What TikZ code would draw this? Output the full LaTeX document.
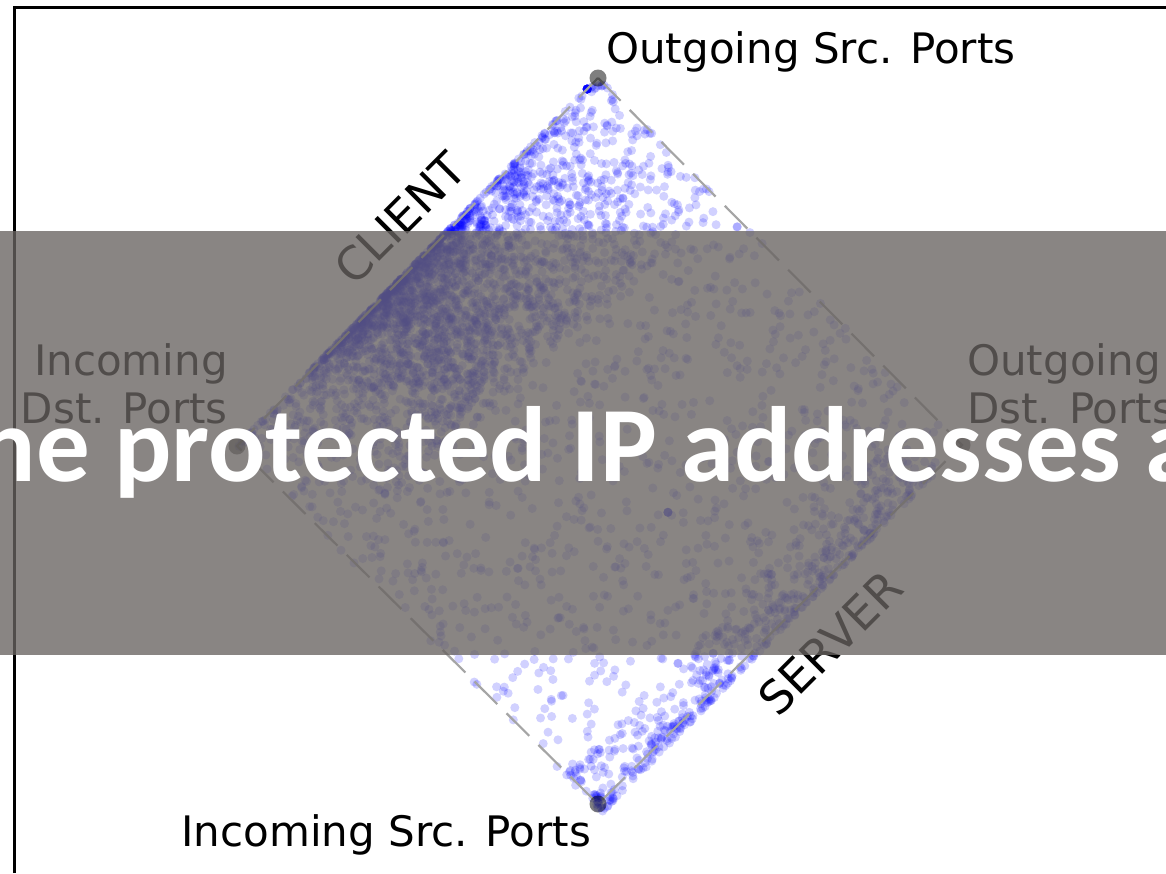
\documentclass[tikz,border=0pt]{standalone}
\usepackage{fontspec}
\setmainfont{DejaVu Sans}
\newfontfamily\capfont{Carlito}

\definecolor{ptblue}{RGB}{0,0,255}
\definecolor{edgegray}{RGB}{165,165,165}
\definecolor{bandgray}{RGB}{104,99,97}

% place one scatter point at diamond coordinates (s along T->L, t along T->R)
\newcommand\ptat[2]{\fill[pt] ({598-361*#1+364*#2},{78+368*#1+367*#2}) circle[radius=4.5pt];}

\begin{document}
\begin{tikzpicture}[x=1pt,y=-1pt,
  pt/.style={fill=ptblue,fill opacity=0.18},
  vdot/.style={circle,fill=black,fill opacity=0.5,inner sep=0pt,minimum size=17pt},
  edgeline/.style={draw=edgegray,line width=2.2pt,dash pattern=on 32pt off 13pt},
  lbl/.style={inner sep=0pt,font=\fontsize{42}{48}\selectfont},
  rlbl/.style={inner sep=0pt,rotate=45,font=\fontsize{46}{52}\selectfont},
  frameline/.style={line width=3.2pt},
]
\useasboundingbox (0,0) rectangle (1166,873);
\clip (0,0) rectangle (1166,873);
\fill[white] (0,0) rectangle (1166,873);

% corners of the port diamond
\coordinate (T) at (598,78);
\coordinate (R) at (962,445);
\coordinate (B) at (598,804);
\coordinate (L) at (237,446);

\pgfmathsetseed{4242}
% band along the client edge
\foreach \i in {1,...,1300}{
  \pgfmathsetmacro\s{0.04+0.96*(rnd+rnd)/2}
  \pgfmathsetmacro\r{rnd}
  \pgfmathsetmacro\t{0.3*\r*\r}
  \ptat{\s}{\t}
}
% dense cloud on the lower half of the client edge
\foreach \i in {1,...,1000}{
  \pgfmathsetmacro\s{0.33+0.5*(rnd+rnd)/2}
  \pgfmathsetmacro\r{rnd}
  \pgfmathsetmacro\t{0.26*\r*\r}
  \ptat{\s}{\t}
}
% spread over the whole diamond, thinning towards the server side
\foreach \i in {1,...,550}{
  \pgfmathsetmacro\s{rnd}
  \pgfmathsetmacro\r{rnd}
  \pgfmathsetmacro\t{\r*\r}
  \ptat{\s}{\t}
}
\foreach \i in {1,...,800}{
  \pgfmathsetmacro\s{rnd}
  \pgfmathsetmacro\t{rnd}
  \ptat{\s}{\t}
}
% band along the server edge
\foreach \i in {1,...,520}{
  \pgfmathsetmacro\s{0.05+0.95*rnd}
  \pgfmathsetmacro\r{rnd}
  \pgfmathsetmacro\t{1-0.1*\r*\r}
  \ptat{\s}{\t}
}
% near the outgoing source corner
\foreach \i in {1,...,220}{
  \pgfmathsetmacro\s{0.38*rnd}
  \pgfmathsetmacro\r{rnd}
  \pgfmathsetmacro\t{0.33*\r}
  \ptat{\s}{\t}
}
% stacked points
\foreach \i in {1,...,18}{ \ptat{0.03}{0.0} }
\foreach \i in {1,...,10}{
  \pgfmathsetmacro\s{0.975+0.015*rnd}
  \pgfmathsetmacro\t{0.965+0.02*rnd}
  \ptat{\s}{\t}
}
\foreach \i in {1,...,5}{ \ptat{0.497}{0.685} }

% dashed diamond
\draw[edgeline] (T) -- (R) -- (B) -- (L) -- cycle;
\node[vdot] (Tdot) at (T) {};
\node[vdot] (Rdot) at (R) {};
\node[vdot] (Bdot) at (B) {};
\node[vdot] (Ldot) at (L) {};

% labels
\node[lbl, anchor=base west] (osrc) at (606,63) {Outgoing Src. Ports};
\node[lbl, anchor=base east] (isrc) at (591,846) {Incoming Src. Ports};
\node[lbl, anchor=base east, align=right] (idst) at (228,423) {Incoming\\Dst. Ports};
\node[lbl, anchor=base west, align=left] (odst) at (967,423) {Outgoing\\Dst. Ports};
\node[rlbl] (client) at (400,218) {CLIENT};
\node[rlbl] (server) at (830,643) {SERVER};

% axes frame
\coordinate (fb) at (14.5,873);
\coordinate (fc) at (14.5,7.5);
\coordinate (fr) at (1166,7.5);
\draw[frameline] (fb) -- (fc) -- (fr);

% caption band
\node[fill=bandgray, fill opacity=0.78, inner sep=0pt, minimum width=1166pt,
      minimum height=424pt, anchor=north west] (band) at (0,231) {};
\node[anchor=base west, inner sep=0pt, text=white,
      font=\capfont\bfseries\fontsize{107}{120}\selectfont] (caption) at (114,481)
      {\llap{he }protected IP addresses a};
\end{tikzpicture}
\end{document}
